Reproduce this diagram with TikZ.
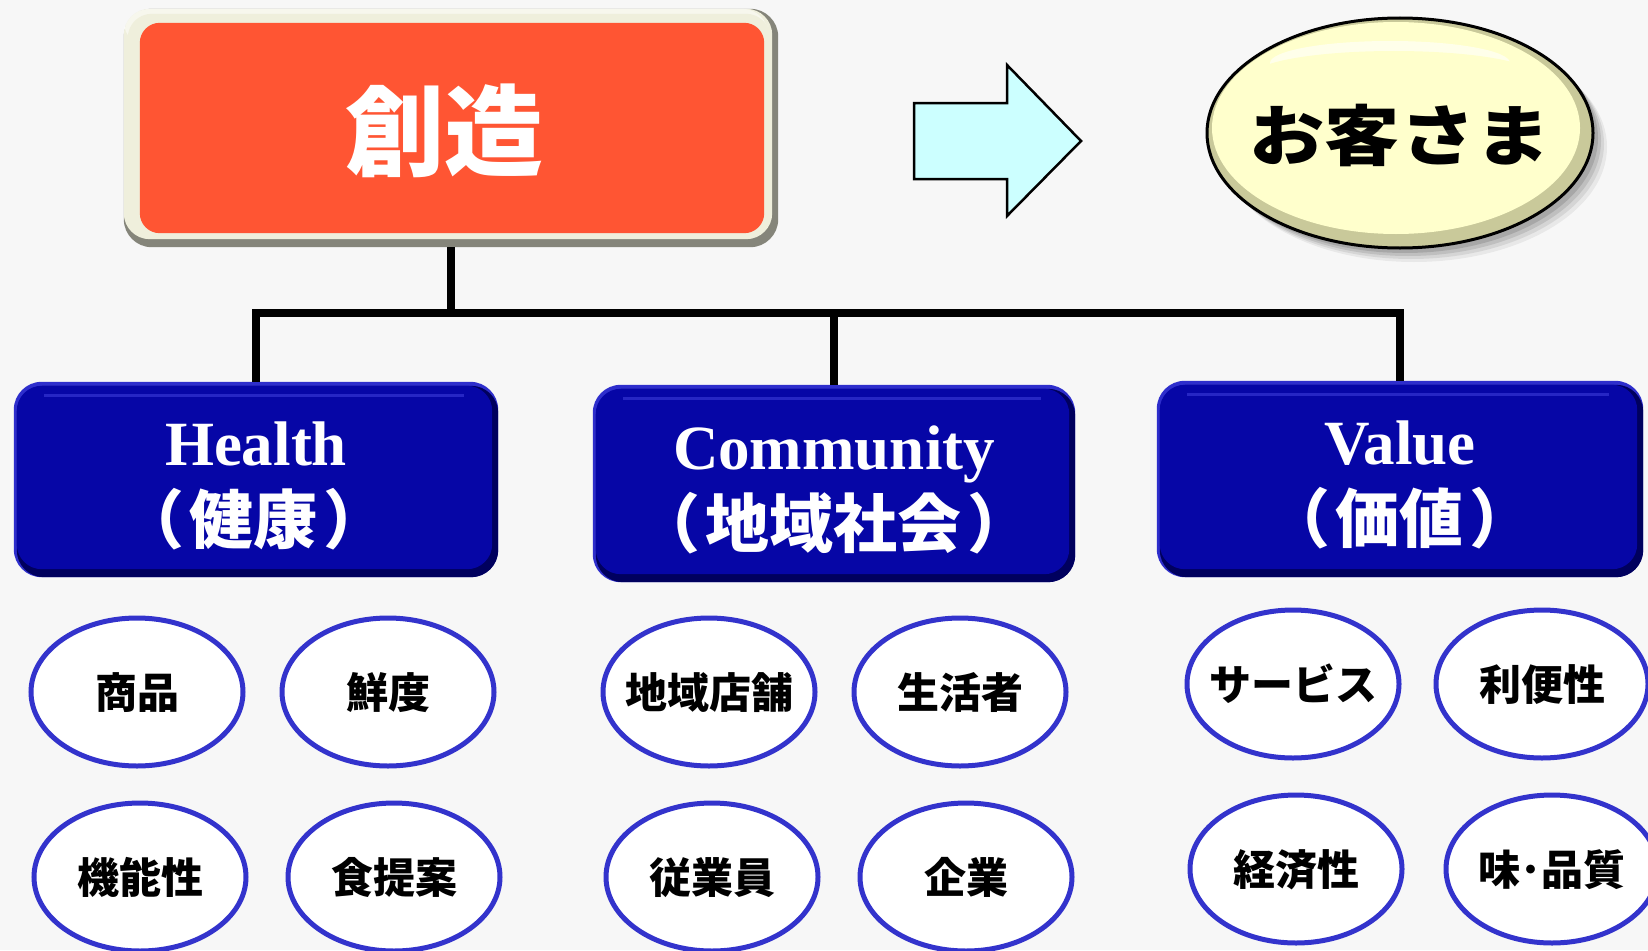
\documentclass[tikz,border=0pt]{standalone}
\usepackage{fontspec}
\setmainfont{Liberation Serif}
\newfontfamily\jp{Noto Sans CJK JP}
\newfontfamily\jpwide{Noto Sans CJK JP}[FakeStretch=1.14]
\usetikzlibrary{shapes.geometric}
\definecolor{bg}{HTML}{F7F7F7}
\definecolor{orangefill}{HTML}{FF5533}
\definecolor{cream}{HTML}{EFEFDC}
\definecolor{framedark}{HTML}{85857A}
\definecolor{boxblue}{HTML}{0606A6}
\definecolor{boxlight}{HTML}{2E2ECC}
\definecolor{boxdark}{HTML}{00005E}
\definecolor{ringblue}{HTML}{3333CC}
\definecolor{arrowfill}{HTML}{CCFFFF}
\definecolor{custfill}{HTML}{FFFFCC}
\definecolor{custdark}{HTML}{C9C99A}
\newcommand\pl{\mbox{（}\hspace{6pt}}
\newcommand\pr{\hspace{6pt}\mbox{）}}
\tikzset{
  conn/.style={line width=7.5pt, black, line join=miter},
  boxanchor/.style={rectangle, draw=none, inner sep=0pt, minimum width=#1},
  engtxt/.style={anchor=base, text=white, font=\bfseries\fontsize{63}{70}\selectfont, inner sep=0pt},
  jptxt/.style={anchor=base, text=white, font=\jp\bfseries\fontsize{64}{70}\selectfont, inner sep=0pt},
  small/.style={ellipse, draw=ringblue, line width=5pt, fill=white, minimum width=212pt, minimum height=148pt,
    inner xsep=-50pt, inner ysep=0pt, text height=35pt, text depth=3pt, font=\jp\bfseries\fontsize{42}{46}\selectfont},
}
\begin{document}
\begin{tikzpicture}[x=1pt,y=-1pt]
\fill[bg] (0,0) rectangle (1648,950);
\useasboundingbox (0,0) rectangle (1648,950);

% ---- top box 創造 ----
\node[boxanchor=654pt, minimum height=238pt] (create) at (451,128) {};
\fill[framedark, rounded corners=28pt] (create.north west) rectangle (create.south east);
\fill[cream, rounded corners=26pt] (create.north west) rectangle ([shift={(-6,-8)}]create.south east);
\fill[white, opacity=0.5, rounded corners=26pt] (create.north west) rectangle ([shift={(-10,-200)}]create.south east);
\fill[cream, rounded corners=24pt] ([shift={(4,5)}]create.north west) rectangle ([shift={(-8,-10)}]create.south east);
\fill[orangefill, rounded corners=20pt] ([shift={(16,14)}]create.north west) rectangle ([shift={(-14,-14)}]create.south east);
\node[anchor=base, text=white, font=\jp\bfseries\fontsize{99}{110}\selectfont, inner sep=0pt] (createtxt) at (444,168) {創造};

% ---- arrow ----
\draw[line width=2.5pt, fill=arrowfill, line join=miter] (914,103) -- (1007,103) -- (1007,65) -- (1081,141) -- (1007,216) -- (1007,179) -- (914,179) -- cycle;

% ---- お客さま ----
\node[ellipse, minimum width=386pt, minimum height=230pt, inner sep=0pt] (cust) at (1400,133) {};
\foreach \o/\op in {14/0.06,11/0.08,8/0.10,5/0.12} {
  \fill[black, opacity=\op] ([shift={(\o,\o)}]cust.center) ellipse [x radius=193pt, y radius=115pt];
}
\fill[custdark] (cust.center) ellipse [x radius=193pt, y radius=115pt];
\fill[custfill] ([shift={(-4,-5)}]cust.center) ellipse [x radius=184pt, y radius=106pt];
\fill[white, opacity=0.6] ([shift={(-10,-70)}]cust.center) ellipse [x radius=120pt, y radius=22pt];
\fill[custfill] ([shift={(-6,-58)}]cust.center) ellipse [x radius=140pt, y radius=24pt];
\draw[line width=3pt, black] (cust.center) ellipse [x radius=193pt, y radius=115pt];
\node[anchor=base, font=\jpwide\bfseries\fontsize{66}{72}\selectfont, inner sep=0pt] (custtxt) at (1400,160) {お客さま};

% ---- blue boxes ----
\node[boxanchor=484pt, minimum height=195pt] (health) at (256,479.5) {};
\node[boxanchor=482pt, minimum height=197pt] (community) at (834,483.5) {};
\node[boxanchor=486pt, minimum height=196pt] (value) at (1400,479) {};
\foreach \b in {health,community,value} {
  \fill[boxlight, rounded corners=28pt] (\b.north west) rectangle (\b.south east);
  \fill[boxdark, rounded corners=27pt] ([shift={(3,4)}]\b.north west) rectangle (\b.south east);
  \fill[boxblue, rounded corners=25pt] ([shift={(3,4)}]\b.north west) rectangle ([shift={(-6,-8)}]\b.south east);
  \draw[boxlight, line width=3pt, opacity=0.8] ([shift={(30,14)}]\b.north west) -- ([shift={(-34,14)}]\b.north east);
}
\node[engtxt] (healthen) at (256,465) {Health};
\node[jptxt] (healthjp) at (254,543) {\pl 健康\pr};
\node[engtxt] (communityen) at (834,469) {Community};
\node[jptxt] (communityjp) at (834,547) {\pl 地域社会\pr};
\node[engtxt] (valueen) at (1400,464) {Value};
\node[jptxt] (valuejp) at (1400,542) {\pl 価値\pr};

% ---- connectors ----
\coordinate (bus) at (451,313);
\draw[conn] (create.south) -- (create.south |- bus);
\draw[conn] (health.north) -- (health.north |- bus) -- (value.north |- bus) -- (value.north);
\draw[conn] (community.north) -- (community.north |- bus);

% ---- small ellipses ----
\node[small] (shohin) at (137,692) {商品};
\node[small] (sendo) at (388,692) {鮮度};
\node[small] (kino) at (140,877) {機能性};
\node[small] (shokuteian) at (394,877) {食提案};
\node[small] (chiiki) at (709,692) {地域店舗};
\node[small] (seikatsu) at (960,692) {生活者};
\node[small] (jugyoin) at (712,877) {従業員};
\node[small] (kigyo) at (966,877) {企業};
\node[small] (service) at (1293,684) {サービス};
\node[small] (ribensei) at (1542,684) {利便性};
\node[small] (keizai) at (1296,869) {経済性};
\node[small] (aji) at (1552,869) {味･品質};
\end{tikzpicture}
\end{document}
